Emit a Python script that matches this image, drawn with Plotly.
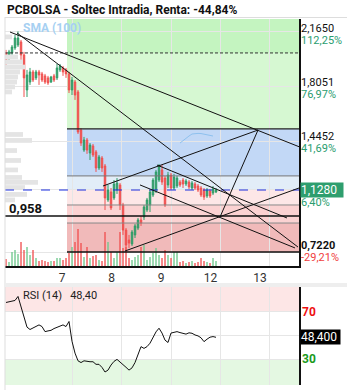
import numpy as np
import plotly.graph_objects as go

# ---------------- data ----------------
day_labels = ['7', '8', '9', '12', '13']
day_ticks = [0, 1, 2, 3, 4]
BARS_PER_DAY = 16.5
T_START = -1.333

opens = [2.024,1.998,2.024,2.057,2.076,2.096,2.011,1.782,1.834,1.900,
         1.861,1.900,1.887,1.874,1.861,1.834,1.874,1.861,1.913,1.926,
         1.913,1.887,1.782,1.834,1.769,1.520,1.389,1.455,1.370,1.416,
         1.377,1.272,1.337,1.285,1.063,1.115,1.076,1.128,1.161,1.030,
         0.866,0.801,0.775,0.834,0.879,0.932,0.951,0.997,1.030,1.095,
         1.128,1.193,1.259,1.206,1.161,1.226,1.141,1.154,1.180,1.193,
         1.167,1.180,1.141,1.167,1.154,1.141,1.128,1.089,1.121,1.108,
         1.115]
highs = [2.044,2.044,2.076,2.142,2.165,2.109,2.031,1.913,1.926,1.913,
         1.913,1.913,1.900,1.887,1.874,1.874,1.887,1.952,1.952,1.939,
         1.926,1.900,1.867,1.847,1.782,1.533,1.475,1.468,1.435,1.429,
         1.389,1.357,1.350,1.298,1.161,1.141,1.193,1.206,1.174,1.044,
         0.879,0.834,0.866,0.906,0.945,0.958,1.030,1.076,1.128,1.206,
         1.259,1.298,1.291,1.220,1.246,1.239,1.233,1.220,1.193,1.206,
         1.200,1.193,1.187,1.180,1.167,1.154,1.141,1.141,1.134,1.154,
         1.141]
lows = [1.939,1.978,2.011,2.044,2.063,1.978,1.736,1.736,1.815,1.834,
        1.847,1.815,1.834,1.821,1.815,1.828,1.834,1.847,1.900,1.874,
        1.861,1.762,1.749,1.717,1.494,1.416,1.377,1.364,1.324,1.344,
        1.246,1.259,1.246,0.997,1.050,0.997,1.063,1.102,0.997,0.834,
        0.722,0.749,0.762,0.814,0.866,0.893,0.932,0.984,0.984,1.082,
        1.108,1.180,1.161,1.017,1.141,1.128,1.128,1.141,1.148,1.141,
        1.154,1.134,1.128,1.128,1.115,1.082,1.063,1.076,1.076,1.095,
        1.108]
closes = [1.959,2.031,2.063,2.122,2.122,2.011,1.861,1.880,1.900,1.847,
          1.900,1.880,1.847,1.834,1.828,1.867,1.847,1.926,1.939,1.900,
          1.887,1.782,1.847,1.749,1.507,1.435,1.455,1.389,1.422,1.357,
          1.272,1.344,1.272,1.076,1.128,1.011,1.167,1.174,1.030,0.866,
          0.768,0.781,0.853,0.893,0.932,0.912,1.017,1.063,1.115,1.193,
          1.246,1.285,1.180,1.030,1.226,1.141,1.213,1.206,1.161,1.167,
          1.187,1.148,1.174,1.141,1.128,1.095,1.082,1.128,1.089,1.134,
          1.128]
volume_k = [7,4,14,16,12,24,16,19,11,16,
            8,5,6,5,4,5,5,8,8,6,
            8,13,19,24,37,23,9,19,8,10,
            11,6,5,34,24,14,8,14,34,18,
            19,8,6,9,11,19,21,6,9,13,
            18,11,8,16,11,8,14,14,4,5,
            3,4,5,3,4,8,5,4,3,8,5]
rsi14 = [77.9,78.6,79,79.6,83,74,64,57,55,56.4,
         57.8,58.9,57.5,53.2,53.8,54.3,55.8,57,58.1,58.9,
         57.5,61.8,45,35,28.5,27,28.5,28,27.7,27.7,
         25.5,25.5,22.9,19,20.6,24.9,28,29.7,27.7,25.5,
         23,20.6,22.5,27,33,40.5,39,40.5,43.4,48.5,
         53,56.1,52,46,44,52,52.4,53.2,52.4,51.8,
         51.1,52.2,51.8,50.4,49.6,48,44.7,46.8,48.5,49,
         48.4]
sma100 = [None]*58 + [1.435,1.452,1.468,1.481,1.494,1.497,1.498,1.497,1.492,1.488,1.484,1.481,None]

# volume profile (price level, volume)
profile_price = [2.129,1.998,1.965,1.932,1.900,1.867,1.834,1.802,1.769,
                 1.491,1.452,1.386,1.321,1.259,1.210,1.177,1.144,1.099,1.063]
profile_vol = [7,13,18,20,15,13,12,10,7,
               18,27,12,16,13,17,33,20,22,10]

# fibonacci-style zones
zone_start = -0.101
zone_bounds = [2.246, 2.024, 1.527, 1.220, 1.128, 1.030, 0.912, 0.722]
zone_colors = ['#c4f4c0', '#d6f8d2', '#c2d8f6', '#e2edf8', '#fde7e7', '#fbd2d2', '#f1baba']
zone_lines = [(1.527, '#222222', 1.2), (1.220, '#777777', 1), (1.030, '#888888', 1),
              (0.912, '#888888', 1), (0.722, '#111111', 1.5)]
level_0958 = 0.958
last_price = 1.128
ref_dashed = 2.024

# trend lines (t0, p0, t1, p1)
trend_lines = [
    (-1.2525, 2.161, 4.586, 1.411),
    (-1.111, 2.155, 4.566, 0.755),
    (0.626, 1.154, 3.758, 1.520),
    (3.758, 1.520, 2.990, 0.951),
    (1.717, 1.291, 4.343, 0.945),
    (1.374, 1.161, 4.505, 0.749),
    (1.071, 0.729, 4.586, 1.141),
]

axis_labels = [(2.165, '2,1650', '112,25%', '#2a9d6f'),
               (1.8051, '1,8051', '76,97%', '#2a9d6f'),
               (1.4452, '1,4452', '41,69%', '#2a9d6f'),
               (0.722, '0,7220', '-29,21%', '#f04040')]

# ---------------- figure ----------------
n = len(closes)
times = T_START + np.arange(n) / BARS_PER_DAY
dt = 1 / BARS_PER_DAY
X_RANGE = [-1.3535, 4.586]
Y_RANGE = [0.631, 2.246]

W, H = 353, 390
ML, MR, MT, MB = 5, 54, 19, 5
PH = H - MT - MB
PW = W - ML - MR
def py(pix):
    return (H - MB - pix) / PH
def px(pix):
    return (pix - ML) / PW

FONT = 'Roboto'
fig = go.Figure()

inc = '#2f9d68'
dec = '#f0504f'
vol_colors = ['rgba(110,200,140,0.75)' if c >= o else 'rgba(240,80,80,0.75)' for o, c in zip(opens, closes)]

fig.add_trace(go.Bar(x=profile_vol, y=profile_price, orientation='h', width=0.031,
                     marker=dict(color='#e4e4e4', line=dict(width=0)),
                     xaxis='x3', yaxis='y', hoverinfo='skip'))
fig.add_trace(go.Bar(x=times, y=volume_k, width=dt * 0.6,
                     marker=dict(color=vol_colors, line=dict(width=0)),
                     xaxis='x', yaxis='y3', hoverinfo='skip'))
fig.add_trace(go.Candlestick(x=times, open=opens, high=highs, low=lows, close=closes,
                             increasing=dict(line=dict(color=inc, width=1), fillcolor=inc),
                             decreasing=dict(line=dict(color=dec, width=1), fillcolor=dec),
                             whiskerwidth=0, xaxis='x', yaxis='y'))
fig.add_trace(go.Scatter(x=times, y=sma100, mode='lines', line=dict(color='#8ec1ee', width=1),
                         xaxis='x', yaxis='y', hoverinfo='skip'))
fig.add_trace(go.Scatter(x=times, y=rsi14, mode='lines', line=dict(color='#111111', width=1),
                         xaxis='x2', yaxis='y2', hoverinfo='skip'))

shapes = []
for i, col in enumerate(zone_colors):
    shapes.append(dict(type='rect', xref='x', yref='y', x0=zone_start, x1=X_RANGE[1],
                       y0=zone_bounds[i + 1], y1=zone_bounds[i], fillcolor=col,
                       line=dict(width=0), layer='below'))
shapes.append(dict(type='rect', xref='x2', yref='y2', x0=X_RANGE[0], x1=X_RANGE[1], y0=70, y1=91,
                   fillcolor='#fde6e6', line=dict(width=0), layer='below'))
shapes.append(dict(type='rect', xref='x2', yref='y2', x0=X_RANGE[0], x1=X_RANGE[1], y0=8, y1=30,
                   fillcolor='#e4f8e2', line=dict(width=0), layer='below'))
for lvl, col, w in zone_lines:
    shapes.append(dict(type='line', xref='x', yref='y', x0=zone_start, x1=X_RANGE[1],
                       y0=lvl, y1=lvl, line=dict(color=col, width=w)))
shapes.append(dict(type='line', xref='x', yref='y', x0=X_RANGE[0], x1=X_RANGE[1],
                   y0=level_0958, y1=level_0958, line=dict(color='#111111', width=1.5)))
shapes.append(dict(type='line', xref='x', yref='y', x0=X_RANGE[0], x1=X_RANGE[1],
                   y0=last_price, y1=last_price, line=dict(color='#1a2ee0', width=1.2, dash='dash')))
shapes.append(dict(type='line', xref='x', yref='y', x0=X_RANGE[0], x1=X_RANGE[1],
                   y0=ref_dashed, y1=ref_dashed, line=dict(color='#333333', width=1, dash='3px,2px')))
for t0, p0, t1, p1 in trend_lines:
    shapes.append(dict(type='line', xref='x', yref='y', x0=t0, y0=p0, x1=t1, y1=p1,
                       line=dict(color='#111111', width=1)))
shapes.append(dict(type='line', xref='paper', yref='paper', x0=0, x1=0, y0=py(390), y1=py(17),
                   line=dict(color='#dddddd', width=1)))
shapes.append(dict(type='line', xref='paper', yref='paper', x0=0, x1=px(347), y0=py(17.5), y1=py(17.5),
                   line=dict(color='#dddddd', width=1)))
shapes.append(dict(type='rect', xref='paper', yref='paper', x0=0, x1=px(347), y0=py(287), y1=py(283),
                   fillcolor='#eeeeee', line=dict(width=0)))
fig.update_layout(shapes=shapes)

LBL = 11
ann = []
ann.append(dict(xref='paper', yref='paper', x=px(5), y=py(10), xanchor='left', yanchor='middle',
                text='<b>PCBOLSA - Soltec Intradia, Renta: -44,84%</b>', showarrow=False,
                font=dict(size=12, color='#111111', family=FONT)))
ann.append(dict(xref='paper', yref='paper', x=px(21), y=py(28), xanchor='left', yanchor='middle',
                text='<b>SMA (100)</b>', showarrow=False, font=dict(size=12, color='#a6d0f2', family=FONT)))
ann.append(dict(xref='paper', yref='y', x=px(7), y=level_0958, yshift=7, xanchor='left', yanchor='middle',
                text='<b>0,958</b>', showarrow=False, font=dict(size=13, color='#111111', family=FONT)))
shifts = {2.165: (3, -9), 1.8051: (4, -8), 1.4452: (5, -7), 0.722: (7, -5)}
for val, txt, pct, pcol in axis_labels:
    s1, s2 = shifts[val]
    bold = val == 0.722
    ann.append(dict(xref='paper', yref='y', x=1, y=val, xshift=1, yshift=s1, xanchor='left', yanchor='middle',
                    text=('<b>%s</b>' % txt) if bold else txt, showarrow=False, borderpad=0,
                    font=dict(size=LBL, color='#111111', family=FONT)))
    ann.append(dict(xref='paper', yref='y', x=1, y=val, xshift=1, yshift=s2, xanchor='left', yanchor='middle',
                    text=pct, showarrow=False, borderpad=0, font=dict(size=LBL, color=pcol, family=FONT)))
ann.append(dict(xref='paper', yref='y', x=1, y=last_price, xshift=1, yshift=0, xanchor='left', yanchor='middle',
                text='1,1280  ', showarrow=False, bgcolor='#2e9e6e', borderpad=0,
                font=dict(size=12, color='white', family=FONT)))
ann.append(dict(xref='paper', yref='y', x=1, y=last_price, xshift=1, yshift=-13, xanchor='left', yanchor='middle',
                text='6,40%', showarrow=False, borderpad=0, font=dict(size=LBL, color='#2a9d6f', family=FONT)))
ann.append(dict(xref='paper', yref='paper', x=px(21), y=py(295), xanchor='left', yanchor='middle',
                text='RSI (14)   48,40', showarrow=False, font=dict(size=11, color='#222222', family=FONT)))
ann.append(dict(xref='paper', yref='y2', x=1, y=70, xshift=1, xanchor='left', yanchor='middle',
                text='<b>70</b>', showarrow=False, font=dict(size=12, color='#ee1111', family=FONT)))
ann.append(dict(xref='paper', yref='y2', x=1, y=30, xshift=1, xanchor='left', yanchor='middle',
                text='<b>30</b>', showarrow=False, font=dict(size=12, color='#1a9a1a', family=FONT)))
ann.append(dict(xref='paper', yref='y2', x=1, y=rsi14[-1], xshift=1, xanchor='left', yanchor='middle',
                text='48,400 ', showarrow=False, bgcolor='#000000', borderpad=0,
                font=dict(size=12, color='white', family=FONT)))
fig.update_layout(annotations=ann)

grid = '#e6e6e6'
fig.update_layout(
    width=W, height=H, margin=dict(l=ML, r=MR, t=MT, b=MB),
    paper_bgcolor='white', plot_bgcolor='white', showlegend=False,
    font=dict(family=FONT, size=12, color='#333333'),
    xaxis=dict(domain=[0, 1], anchor='y', range=X_RANGE, tickvals=day_ticks, ticktext=day_labels,
               showgrid=True, gridcolor=grid, zeroline=False, showline=True, linecolor='#111111',
               linewidth=1.5, ticks='', ticklabelshift=-10, tickfont=dict(size=12, color='#333333'),
               rangeslider=dict(visible=False), fixedrange=True),
    yaxis=dict(domain=[py(266), 1], anchor='x', range=Y_RANGE, side='right',
               tickvals=[2.165, 1.8051, 1.4452, 1.128, 0.722], showticklabels=False,
               showgrid=True, gridcolor=grid, zeroline=False, showline=True, linecolor='#111111', linewidth=1.5),
    yaxis3=dict(domain=[py(266), 1], overlaying='y', range=[0, 247], visible=False),
    xaxis3=dict(overlaying='x', anchor='y', range=[0, PW], visible=False),
    xaxis2=dict(domain=[0, 1], anchor='y2', range=X_RANGE, matches='x', tickvals=day_ticks,
                showticklabels=False, showgrid=True, gridcolor=grid, zeroline=False, showline=False, ticks=''),
    yaxis2=dict(domain=[0, py(287)], anchor='x2', range=[8, 91], side='right', tickvals=[30, 50, 70],
                showticklabels=False, showgrid=True, gridcolor=grid, zeroline=False,
                showline=True, linecolor='#111111', linewidth=1.5),
)

fig.write_html('out.html')
